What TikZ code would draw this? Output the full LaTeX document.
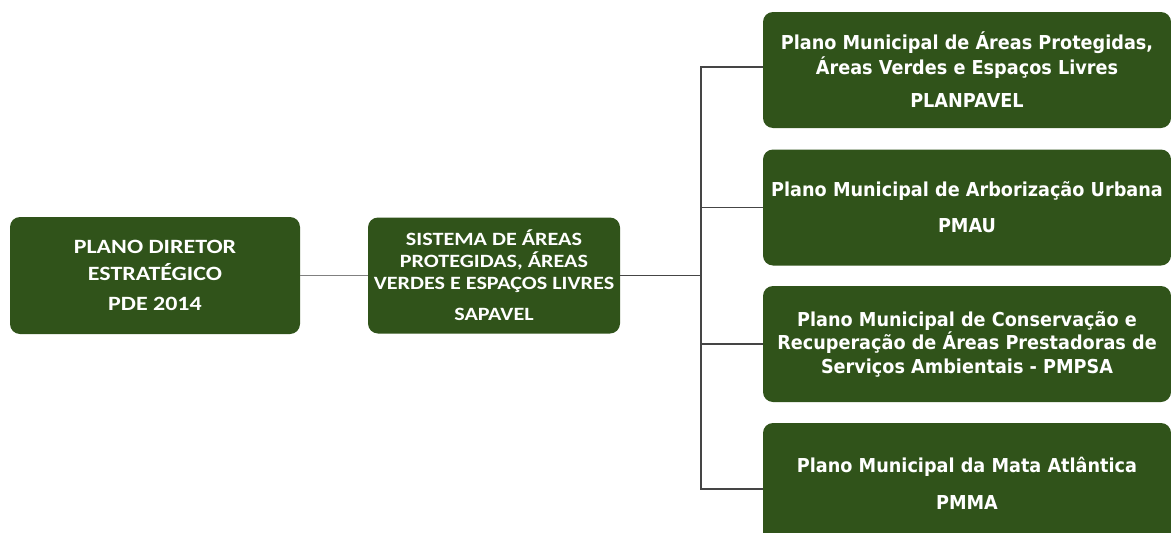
\documentclass[tikz,border=0pt]{standalone}
\usepackage{fontspec}
\setmainfont{Carlito}
\newfontfamily\lfont[FakeStretch=1.18]{Carlito}
\newfontfamily\rfont[FakeStretch=0.92]{DejaVu Sans}
\definecolor{boxgreen}{HTML}{30531A}
\definecolor{trunkgray}{HTML}{454545}
\definecolor{linkgray}{HTML}{808080}
\begin{document}
\begin{tikzpicture}[x=1pt,y=-1pt,
  gbox/.style={draw=none,fill=boxgreen,rounded corners=10pt,text=white,align=center,inner sep=0pt},
  lbox/.style={gbox,font=\lfont\fontsize{20.3}{27}\selectfont\bfseries},
  mbox/.style={gbox,font=\lfont\fontsize{18.75}{22}\selectfont\bfseries},
  rbox/.style={gbox,font=\rfont\fontsize{19.2}{25}\selectfont\bfseries,minimum width=408pt},
  conn/.style={draw=trunkgray,line width=1.4pt}]
\clip (0,0) rectangle (1171,533);
\fill[white] (0,0) rectangle (1171,533);
\node[lbox,minimum width=290pt,minimum height=117pt] (pde) at (155,275.5) {PLANO DIRETOR\\ESTRATÉGICO\\[3pt]PDE 2014};
\node[mbox,minimum width=252pt,minimum height=116pt] (sap) at (494,275.5) {SISTEMA DE ÁREAS\\PROTEGIDAS, ÁREAS\\VERDES E ESPAÇOS LIVRES\\[9pt]SAPAVEL};
\node[rbox,minimum height=116pt] (r1) at (967,70) {Plano Municipal de Áreas Protegidas,\\Áreas Verdes e Espaços Livres\\[8pt]PLANPAVEL};
\node[rbox,minimum height=116pt] (r2) at (967,207.5) {Plano Municipal de Arborização Urbana\\[11pt]PMAU};
\node[rbox,minimum height=116pt,font=\rfont\fontsize{19.2}{23.5}\selectfont\bfseries] (r3) at (967,344) {Plano Municipal de Conservação e\\Recuperação de Áreas Prestadoras de\\Serviços Ambientais - PMPSA};
\node[rbox,minimum height=132pt] (r4) at (967,489) {};
\node[rbox,anchor=center] (r4t) at (967,483.5) {Plano Municipal da Mata Atlântica\\[12pt]PMMA};
\coordinate (t) at (701,275.5);
\draw[draw=linkgray,line width=1.8pt] (pde.east) -- (sap.west);
\draw[conn] (sap.east) -- (t);
\draw[conn] (r1.west |- 0,67) -| (t |- r4.west) -- (r4.west);
\draw[conn] (r2.west) -- (r2.west -| t);
\draw[conn] (r3.west) -- (r3.west -| t);
\end{tikzpicture}
\end{document}
